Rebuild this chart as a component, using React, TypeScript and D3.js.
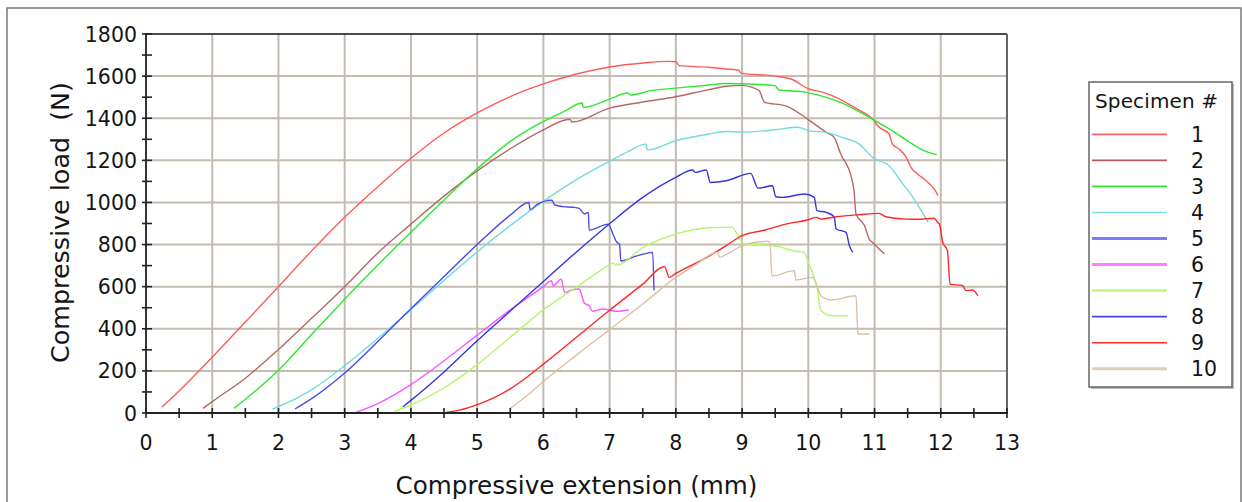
import React from 'react';
import * as d3 from 'd3';

const xTicks = [0, 1, 2, 3, 4, 5, 6, 7, 8, 9, 10, 11, 12, 13];
const yTicks = [0, 200, 400, 600, 800, 1000, 1200, 1400, 1600, 1800];
const specimenLabels = ['1', '2', '3', '4', '5', '6', '7', '8', '9', '10'];
const xTitle = 'Compressive extension (mm)';
const yTitle = 'Compressive load  (N)';
const legendTitle = 'Specimen #';

const specimen1: [number, number][] = [
  [0.24, 28], [0.5, 105], [1.0, 265], [1.5, 432], [2.0, 600], [2.5, 770], [3.0, 930], [3.5, 1075],
  [4.0, 1210], [4.5, 1330], [5.0, 1425], [5.5, 1503], [6.0, 1563], [6.5, 1610], [7.0, 1643],
  [7.5, 1662], [7.9, 1670],
  [8.0, 1668], [8.05, 1650], [8.5, 1642], [8.76, 1634], [8.95, 1628], [8.98, 1614], [9.5, 1600],
  [9.75, 1585], [10.0, 1540], [10.2, 1525], [10.42, 1499], [10.7, 1450], [10.97, 1396],
  [11.07, 1357], [11.22, 1325], [11.27, 1277], [11.37, 1254], [11.48, 1214], [11.55, 1167],
  [11.65, 1135], [11.78, 1103], [11.9, 1064], [11.96, 1032],
];
const specimen2: [number, number][] = [
  [0.86, 22], [1.0, 54], [1.5, 165], [2.0, 302], [2.5, 450], [3.0, 600], [3.5, 760], [4.0, 897],
  [4.5, 1030], [5.0, 1150], [5.5, 1255], [6.0, 1345], [6.4, 1395], [6.43, 1382], [7.0, 1448],
  [7.5, 1477], [8.0, 1502], [8.5, 1536], [8.76, 1552], [9.0, 1556], [9.13, 1549], [9.26, 1530],
  [9.34, 1475], [9.66, 1459], [9.99, 1396], [10.27, 1333], [10.39, 1309], [10.49, 1230],
  [10.65, 1119], [10.69, 1056], [10.72, 945], [10.85, 889], [10.92, 826], [10.97, 810], [11.15, 755],
];
const specimen3: [number, number][] = [
  [1.33, 22], [1.5, 65], [2.0, 203], [2.58, 400], [3.18, 600], [3.81, 800], [4.38, 975], [5.0, 1160],
  [5.5, 1290], [6.0, 1385], [6.3, 1430], [6.59, 1472], [6.6, 1451], [7.0, 1491], [7.27, 1520],
  [7.32, 1510], [7.6, 1530], [8.0, 1543], [8.5, 1558], [8.75, 1565], [9.26, 1560], [9.5, 1555],
  [9.55, 1535], [9.97, 1523], [10.27, 1499], [10.52, 1471], [10.92, 1404], [11.27, 1340],
  [11.53, 1286], [11.73, 1249], [11.94, 1227],
];
const specimen4: [number, number][] = [
  [1.91, 19], [2.0, 30], [2.5, 110], [3.0, 225], [3.5, 355], [4.0, 490], [4.5, 630], [5.0, 765],
  [5.5, 890], [6.0, 1005], [6.5, 1108], [7.0, 1196], [7.3, 1245], [7.55, 1277],
  [7.57, 1249], [8.0, 1293], [8.5, 1325], [8.76, 1337], [9.0, 1334], [9.5, 1345], [9.84, 1357],
  [10.02, 1340], [10.27, 1333], [10.5, 1310], [10.77, 1277], [10.97, 1214], [11.22, 1174],
  [11.43, 1087], [11.58, 1024], [11.75, 937], [11.81, 905],
];
const specimen5: [number, number][] = [
  [2.25, 19], [2.5, 68], [3.0, 190], [3.5, 340], [4.0, 495], [4.5, 648], [5.0, 800], [5.5, 940],
  [5.78, 1000], [5.8, 966], [5.9, 990], [6.13, 1011], [6.17, 988],
  [6.3, 980], [6.45, 977], [6.54, 972], [6.62, 945], [6.68, 953], [6.69, 869], [6.98, 897],
  [7.05, 850], [7.1, 815], [7.15, 800], [7.17, 722], [7.4, 745], [7.65, 763], [7.67, 582],
];
const specimen6: [number, number][] = [
  [3.17, 3], [3.5, 45], [4.0, 135], [4.5, 248], [5.0, 370], [5.5, 490], [6.0, 600], [6.12, 628],
  [6.15, 604], [6.27, 636], [6.32, 573], [6.42, 584], [6.54, 589], [6.62, 521], [6.69, 510],
  [6.74, 483], [6.9, 494], [7.1, 483], [7.29, 489],
];
const specimen7: [number, number][] = [
  [3.75, 8], [4.0, 38], [4.5, 120], [5.0, 230], [5.5, 360], [6.0, 490], [6.5, 598], [7.0, 703],
  [7.05, 712], [7.1, 702], [7.5, 785], [8.0, 850], [8.5, 880], [8.85, 883], [8.92, 853],
  [9.03, 802], [9.26, 799], [9.56, 790], [9.76, 771], [9.94, 763], [9.99, 723], [10.07, 660],
  [10.14, 581], [10.19, 486], [10.37, 462], [10.6, 462],
];
const specimen8: [number, number][] = [
  [3.88, 30], [4.0, 60], [4.5, 195], [5.0, 343], [5.5, 484], [6.0, 625], [6.5, 765], [7.0, 899],
  [7.5, 1024], [8.0, 1119], [8.25, 1154], [8.3, 1143], [8.46, 1154], [8.52, 1095], [8.76, 1103],
  [9.13, 1138], [9.24, 1068], [9.46, 1079], [9.51, 1027], [9.61, 1024], [9.94, 1040],
  [10.09, 1024], [10.13, 961], [10.27, 953], [10.39, 932], [10.42, 874], [10.57, 858],
  [10.62, 795], [10.67, 763],
];
const specimen9: [number, number][] = [
  [4.53, 3], [4.75, 15], [5.0, 40], [5.25, 72], [5.5, 115], [5.75, 170], [6.0, 232], [6.5, 360],
  [7.0, 488], [7.5, 612], [7.83, 695],
  [7.9, 644], [8.0, 663], [8.5, 745], [8.76, 795], [9.0, 842], [9.35, 869], [9.66, 897],
  [10.0, 918], [10.12, 929], [10.19, 921], [10.42, 932], [10.77, 942], [11.07, 948], [11.17, 932],
  [11.48, 921], [11.65, 920], [11.9, 925], [11.95, 906], [11.98, 897], [12.03, 810], [12.1, 771],
  [12.14, 612], [12.33, 605], [12.38, 581], [12.48, 584], [12.56, 557],
];
const specimen10: [number, number][] = [
  [5.5, 22], [5.75, 82], [6.0, 150], [6.5, 275], [7.0, 396], [7.5, 518], [8.0, 644], [8.3, 705],
  [8.63, 763], [8.66, 739], [8.76, 752], [9.06, 802], [9.39, 815], [9.42, 812], [9.45, 650],
  [9.79, 676], [9.81, 632], [10.07, 644], [10.19, 557], [10.34, 537], [10.72, 557], [10.75, 375],
  [10.92, 375],
];

const specimens = [specimen1, specimen2, specimen3, specimen4, specimen5, specimen6, specimen7, specimen8, specimen9, specimen10];
const lineColors = ['#ff5a5a', '#b86666', '#2ee82e', '#72dcdc', '#4a4aee', '#ff55ff', '#b8f46c', '#3535dd', '#ff2626', '#dcc0a2'];
const legendColors = ['#ff6060', '#b85858', '#2ee82e', '#80e0e0', '#7c7cff', '#ff80ff', '#b8f47c', '#4545dd', '#ff3030', '#e2cdb8'];
const legendWidths = [1.8, 1.6, 1.8, 1.6, 3, 3, 2, 1.8, 1.6, 3];

const FONT = '"DejaVu Sans", Verdana, sans-serif';

export default function App() {
  const x = d3.scaleLinear().domain([0, 13]).range([146, 1007]);
  const y = d3.scaleLinear().domain([0, 1800]).range([413, 34]);
  const line = d3.line<[number, number]>().x((d) => x(d[0])).y((d) => y(d[1])).curve(d3.curveMonotoneX);
  const minorX = d3.range(0, 13.01, 0.5);
  const minorY = d3.range(0, 1801, 100);
  const gridColor = '#c2bcb1';
  const textColor = '#151515';
  const legendX = 1089, legendY = 82, legendW = 143, legendH = 305;

  return (
    <svg width={1242} height={502} style={{ position: 'absolute', left: 0, top: 0, background: '#fff' }}>
      <rect x={7} y={8} width={1234} height={520} fill="#fff" stroke="#7a7a7a" strokeWidth={1.5} />
      {/* grid */}
      {xTicks.slice(1, -1).map((t) => (
        <line key={'gx' + t} x1={x(t)} x2={x(t)} y1={y(1800)} y2={y(0)} stroke={gridColor} strokeWidth={2} />
      ))}
      {yTicks.slice(1, -1).map((t) => (
        <line key={'gy' + t} x1={x(0)} x2={x(13)} y1={y(t)} y2={y(t)} stroke={gridColor} strokeWidth={2} />
      ))}
      {/* curves */}
      {specimens.map((s, i) => (
        <path key={'s' + i} d={line(s) || ''} fill="none" stroke={lineColors[i]} strokeWidth={1.4} strokeLinejoin="round" />
      ))}
      {/* frame */}
      <line x1={x(0)} x2={x(13)} y1={y(1800)} y2={y(1800)} stroke="#111" strokeWidth={1.6} />
      <line x1={x(13)} x2={x(13)} y1={y(1800)} y2={y(0)} stroke="#666" strokeWidth={2} />
      <line x1={x(0)} x2={x(0)} y1={y(1800) - 1} y2={y(0)} stroke="#333" strokeWidth={2} />
      <line x1={x(0)} x2={x(13) + 1} y1={y(0)} y2={y(0)} stroke="#222" strokeWidth={2} />
      {minorX.map((t) => (
        <line key={'tx' + t} x1={x(t)} x2={x(t)} y1={y(0) - 5} y2={y(0) + 5} stroke="#222" strokeWidth={1.6} />
      ))}
      {minorY.map((t) => (
        <line key={'ty' + t} x1={x(0) - 4} x2={x(0) + 6} y1={y(t)} y2={y(t)} stroke="#222" strokeWidth={1.6} />
      ))}
      {/* tick labels */}
      {yTicks.map((t) => (
        <text key={'ly' + t} x={137} y={y(t)} dy="0.37em" textAnchor="end" fontFamily={FONT} fontSize={20.5} fill={textColor}>
          {t}
        </text>
      ))}
      {xTicks.map((t) => (
        <text key={'lx' + t} x={x(t)} y={450} textAnchor="middle" fontFamily={FONT} fontSize={20.5} fill={textColor}>
          {t}
        </text>
      ))}
      <text x={(x(0) + x(13)) / 2} y={494} textAnchor="middle" fontFamily={FONT} fontSize={25} fill={textColor}
        textLength={362} lengthAdjust="spacingAndGlyphs">
        {xTitle}
      </text>
      <text transform={`translate(69,222.5) rotate(-90)`} textAnchor="middle" fontFamily={FONT} fontSize={25}
        fill={textColor} style={{ whiteSpace: 'pre' }} textLength={281} lengthAdjust="spacingAndGlyphs">
        {yTitle}
      </text>
      {/* legend */}
      <rect x={legendX + 2} y={legendY + 2} width={legendW} height={legendH} fill="#bdbdbd" />
      <rect x={legendX} y={legendY} width={legendW} height={legendH} fill="#fff" stroke="#666" strokeWidth={1.5} />
      <text x={1095} y={108} fontFamily={FONT} fontSize={20} fill={textColor} textLength={123} lengthAdjust="spacing">
        {legendTitle}
      </text>
      {specimenLabels.map((lab, i) => {
        const ly = 134.3 + i * 26.05;
        return (
          <g key={'lg' + i}>
            <line x1={1092} x2={1167} y1={ly} y2={ly} stroke={legendColors[i]} strokeWidth={legendWidths[i]} />
            <text x={1191} y={ly} dy="0.37em" fontFamily={FONT} fontSize={20.5} fill={textColor}>
              {lab}
            </text>
          </g>
        );
      })}
    </svg>
  );
}
